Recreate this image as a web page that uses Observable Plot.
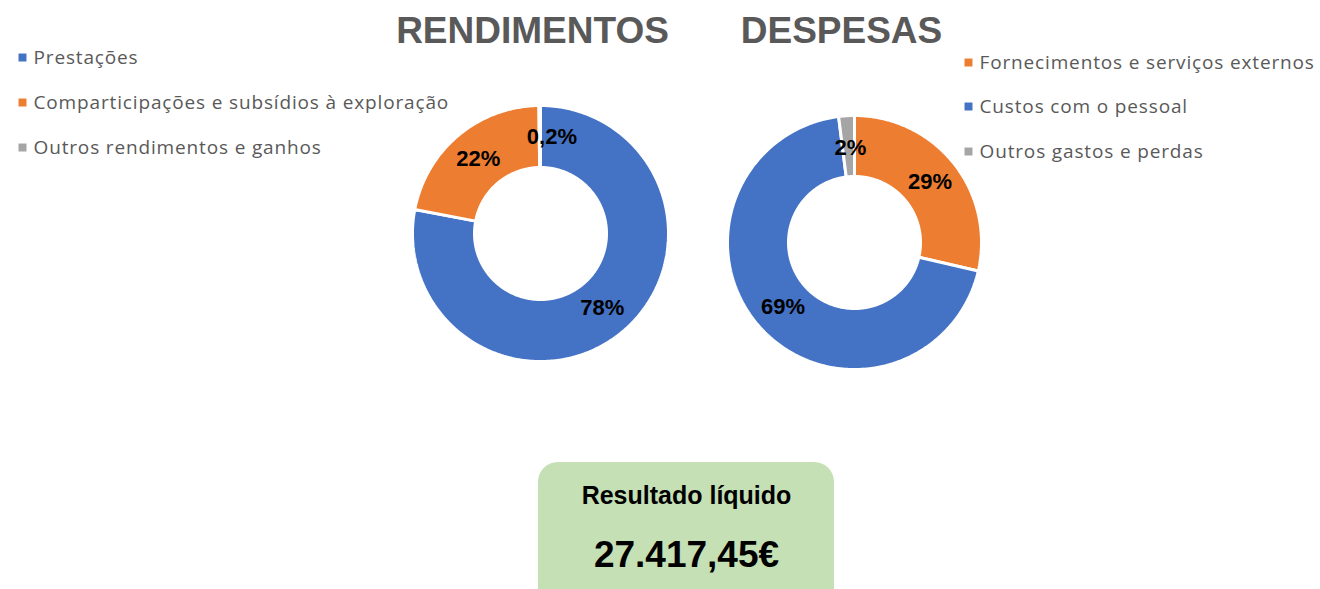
<!DOCTYPE html>
<html><head><meta charset="utf-8">
<script src="https://cdn.jsdelivr.net/npm/d3@7"></script>
<script src="https://cdn.jsdelivr.net/npm/@observablehq/plot@0.6"></script>
<style>
body{margin:0;background:#fff;overflow:hidden}
</style>
</head><body><div id="chart"></div>
<script>
// ---- data ----
const titles = ["RENDIMENTOS", "DESPESAS"];
const incomeCategories = ["Prestações", "Comparticipações e subsídios à exploração", "Outros rendimentos e ganhos"];
const incomeValues = [78.0, 21.8, 0.2];
const incomeLabels = ["78%", "22%", "0,2%"];
const incomeColors = ["#4472C4", "#ED7D31", "#A5A5A5"];
const expenseCategories = ["Fornecimentos e serviços externos", "Custos com o pessoal", "Outros gastos e perdas"];
const expenseValues = [28.6, 69.4, 2.0];
const expenseLabels = ["29%", "69%", "2%"];
const expenseColors = ["#ED7D31", "#4472C4", "#A5A5A5"];
const resultTitle = "Resultado líquido";
const resultValue = "27.417,45€";

// ---- layout ----
const W = 1320, H = 589;
const donuts = [
  {name: "inc", cats: incomeCategories, vals: incomeValues, labels: incomeLabels, cx: 540, cy: 233, r0: 66, r1: 128,
   nudge: [[0,0],[0,0],[12,0]], titleX: 532,
   legendX: 22, legendY: [57, 102, 147]},
  {name: "exp", cats: expenseCategories, vals: expenseValues, labels: expenseLabels, cx: 854, cy: 242, r0: 66, r1: 127,
   nudge: [[0,0],[0,0],[2,2]], titleX: 841,
   legendX: 968, legendY: [62, 106, 151]}
];

const ringRows = [], labelRows = [], legendRows = [], titleRows = [];
donuts.forEach((d, di) => {
  const arcs = d3.pie().sort(null).value(v => v)(d.vals);
  arcs.forEach((a, i) => {
    const key = d.name + i, cat = d.cats[i];
    const span = a.endAngle - a.startAngle;
    const n = Math.max(2, Math.ceil(span / 0.01));
    for (let k = 0; k <= n; k++) {
      const t = a.startAngle + span * k / n;
      ringRows.push({key, cat, x: d.cx + d.r1 * Math.sin(t), y: d.cy - d.r1 * Math.cos(t)});
    }
    for (let k = n; k >= 0; k--) {
      const t = a.startAngle + span * k / n;
      ringRows.push({key, cat, x: d.cx + d.r0 * Math.sin(t), y: d.cy - d.r0 * Math.cos(t)});
    }
    ringRows.push({key, cat, x: d.cx + d.r1 * Math.sin(a.startAngle), y: d.cy - d.r1 * Math.cos(a.startAngle)});
    const mid = (a.startAngle + a.endAngle) / 2, rm = (d.r0 + d.r1) / 2;
    labelRows.push({text: d.labels[i], x: d.cx + rm * Math.sin(mid) + d.nudge[i][0], y: d.cy - rm * Math.cos(mid) + d.nudge[i][1]});
    legendRows.push({cat, x: d.legendX, y: d.legendY[i]});
  });
  titleRows.push({text: titles[di], x: d.titleX, y: 31});
});

const colorDomain = [...incomeCategories, ...expenseCategories];
const colorRange = [...incomeColors, ...expenseColors];

const chart = Plot.plot({
  width: W, height: H,
  margin: 0,
  x: {domain: [0, W], range: [0, W], axis: null},
  y: {domain: [0, H], range: [0, H], axis: null},
  color: {domain: colorDomain, range: colorRange, type: "ordinal"},
  style: {background: "white", overflow: "hidden"},
  marks: [
    Plot.line(ringRows, {x: "x", y: "y", z: "key", fill: "cat", stroke: "white", strokeWidth: 3, strokeLinejoin: "miter", curve: "linear"}),
    Plot.text(labelRows, {x: "x", y: "y", text: "text", fontSize: 22, fontWeight: "bold", fontFamily: "Liberation Sans, Arial, sans-serif", fill: "#000"}),
    Plot.text(titleRows, {x: "x", y: "y", text: "text", fontSize: 37, fontWeight: "bold", fontFamily: "Liberation Sans, Arial, sans-serif", fill: "#595959"}),
    Plot.dot(legendRows, {x: "x", y: "y", fill: "cat", symbol: "square", r: 4.5}),
    Plot.text(legendRows, {x: d => d.x + 11, y: "y", text: "cat", textAnchor: "start", fontSize: 19, fontFamily: "Open Sans, sans-serif", fill: "#595959"}),
    Plot.rect([{x1: 538, x2: 834, y1: 462, y2: 620}], {x1: "x1", x2: "x2", y1: "y1", y2: "y2", fill: "#C5E0B4", rx: 20}),
    Plot.text([resultTitle], {x: 686, y: 495, text: d => d, fontSize: 25, fontWeight: "bold", fontFamily: "Liberation Sans, Arial, sans-serif", fill: "#000"}),
    Plot.text([resultValue], {x: 686, y: 555, text: d => d, fontSize: 37, fontWeight: "bold", fontFamily: "Liberation Sans, Arial, sans-serif", fill: "#000"})
  ]
});
const legendSet = new Set(colorDomain);
d3.select(chart).selectAll("text")
  .filter(function() { return legendSet.has(this.textContent); })
  .style("letter-spacing", "0.85px");
document.getElementById("chart").append(chart);
</script>
</body></html>
